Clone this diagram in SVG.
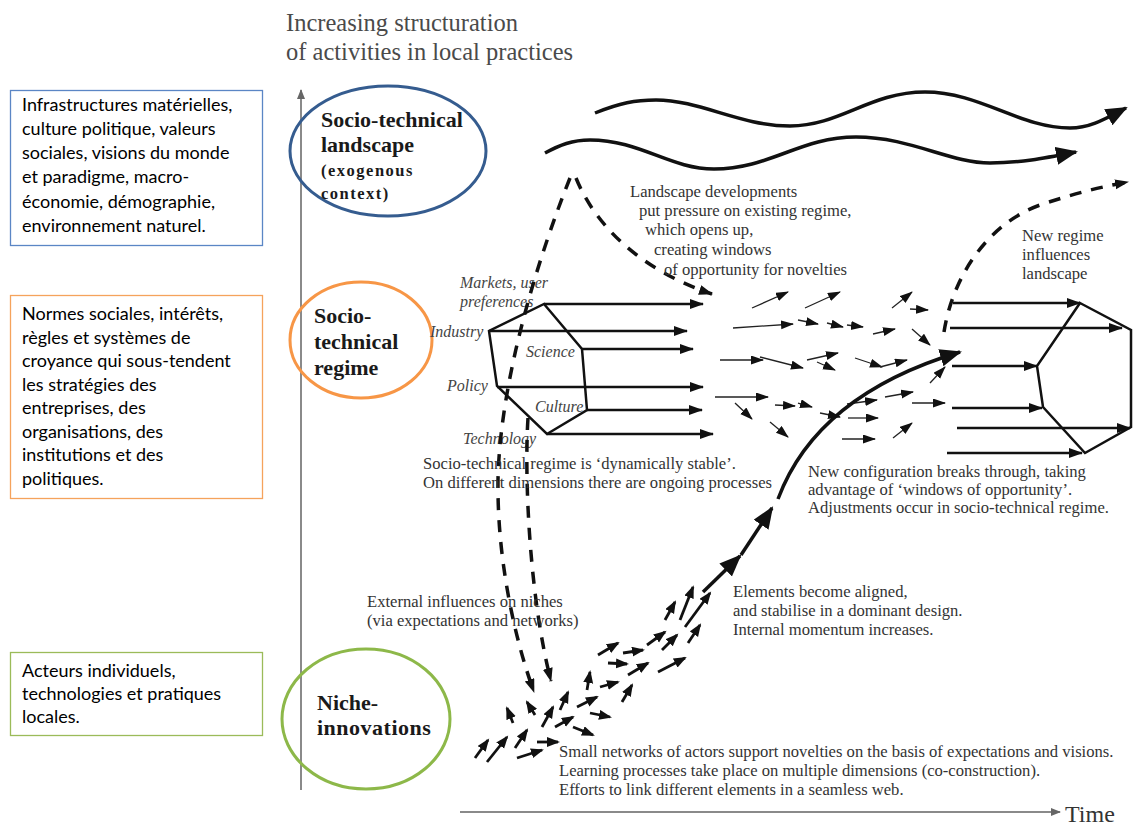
<svg xmlns="http://www.w3.org/2000/svg" width="1133" height="827" viewBox="0 0 1133 827">
<defs>
<style>
.ax{stroke:#8a8a8a;stroke-width:2;fill:none}
.wave{stroke:#111;stroke-width:3.5;fill:none}
.dash{stroke:#111;stroke-width:3.5;stroke-dasharray:12 10;fill:none}
.hex{stroke:#111;stroke-width:2.5;fill:none}
.ar{stroke:#111;stroke-width:2.5;fill:none}
.th{stroke:#222;stroke-width:1.3;fill:none}
.ni{stroke:#111;stroke-width:2.8;fill:none}
.t{font-family:"Liberation Serif","Times New Roman",serif;font-size:16.6px;fill:#333}
.it{font-style:italic;fill:#444;font-size:16px}
.lbl{font-family:"Liberation Serif","Times New Roman",serif;font-weight:bold;font-size:22px;fill:#1a1a1a}
.sub{font-family:"Liberation Serif","Times New Roman",serif;font-weight:bold;font-size:16.5px;letter-spacing:1.5px;fill:#1a1a1a}
.fr{font-family:Lato,"Noto Sans",sans-serif;font-size:18px;fill:#000}
</style>
<marker id="mBig" markerUnits="userSpaceOnUse" markerWidth="24" markerHeight="20" refX="20" refY="9" orient="auto"><path d="M0,0 L22,9 L0,18 z" fill="#111"/></marker>
<marker id="mMed" markerUnits="userSpaceOnUse" markerWidth="16" markerHeight="12" refX="13" refY="5" orient="auto"><path d="M0,0 L14,5 L0,10 z" fill="#111"/></marker>
<marker id="mSm" markerUnits="userSpaceOnUse" markerWidth="14" markerHeight="12" refX="12" refY="4.5" orient="auto"><path d="M0,0 L13,4.5 L0,9 z" fill="#111"/></marker>
<marker id="mNi" markerUnits="userSpaceOnUse" markerWidth="14" markerHeight="12" refX="11" refY="5" orient="auto"><path d="M0,0 L13,5 L0,10 z" fill="#111"/></marker>
<marker id="mAx" markerUnits="userSpaceOnUse" markerWidth="12" markerHeight="10" refX="9" refY="4" orient="auto"><path d="M0,0 L10,4 L0,8 z" fill="#666"/></marker>
</defs>
<rect width="1133" height="827" fill="#fff"/>

<g id="title">
<text x="286" y="31" font-family="Liberation Serif, serif" font-size="24.5" fill="#4a4a4a">Increasing structuration</text>
<text x="286" y="60" font-family="Liberation Serif, serif" font-size="24.5" fill="#4a4a4a">of activities in local practices</text>
</g>

<g id="axes">
<line class="ax" x1="301" y1="790" x2="301" y2="90" marker-end="url(#mAx)"/>
<line class="ax" x1="460" y1="812" x2="1060" y2="812" marker-end="url(#mAx)"/>
<text x="1065" y="822" font-family="Liberation Serif, serif" font-size="24" fill="#333">Time</text>
</g>

<g id="box-landscape">
<rect x="10.5" y="90.5" width="252" height="155" fill="#fff" stroke="#5B86C5" stroke-width="1.3"/>
<text class="fr" x="22" y="111">Infrastructures matérielles,</text>
<text class="fr" x="22" y="135">culture politique, valeurs</text>
<text class="fr" x="22" y="159">sociales, visions du monde</text>
<text class="fr" x="22" y="183">et paradigme, macro-</text>
<text class="fr" x="22" y="208">économie, démographie,</text>
<text class="fr" x="22" y="232">environnement naturel.</text>
</g>

<g id="box-regime">
<rect x="10.5" y="295.5" width="252" height="203" fill="#fff" stroke="#F5A35C" stroke-width="1.3"/>
<text class="fr" x="22" y="320">Normes sociales, intérêts,</text>
<text class="fr" x="22" y="344">règles et systèmes de</text>
<text class="fr" x="22" y="367">croyance qui sous-tendent</text>
<text class="fr" x="22" y="391">les stratégies des</text>
<text class="fr" x="22" y="414">entreprises, des</text>
<text class="fr" x="22" y="438">organisations, des</text>
<text class="fr" x="22" y="461">institutions et des</text>
<text class="fr" x="22" y="485">politiques.</text>
</g>

<g id="box-niche">
<rect x="10.5" y="652.5" width="252" height="83" fill="#fff" stroke="#9BBB59" stroke-width="1.3"/>
<text class="fr" x="22" y="677">Acteurs individuels,</text>
<text class="fr" x="22" y="700">technologies et pratiques</text>
<text class="fr" x="22" y="723">locales.</text>
</g>

<g id="ellipse-landscape">
<ellipse cx="388" cy="151" rx="98" ry="65" fill="none" stroke="#355C8F" stroke-width="3"/>
<text class="lbl" x="321" y="127">Socio-technical</text>
<text class="lbl" x="321" y="152">landscape</text>
<text class="sub" x="321" y="176">(exogenous</text>
<text class="sub" x="321" y="199">context)</text>
</g>

<g id="ellipse-regime">
<ellipse cx="361" cy="340" rx="71" ry="58" fill="none" stroke="#F79646" stroke-width="3"/>
<text class="lbl" x="314" y="323">Socio-</text>
<text class="lbl" x="314" y="349">technical</text>
<text class="lbl" x="314" y="375">regime</text>
</g>

<g id="ellipse-niche">
<ellipse cx="366" cy="719" rx="84" ry="70" fill="none" stroke="#8DB849" stroke-width="3"/>
<text class="lbl" x="317" y="710">Niche-</text>
<text class="lbl" x="317" y="735" letter-spacing="0.5">innovations</text>
</g>

<g id="regime-hexagon">
<polygon class="hex" points="544,304 582,349 587,410 547,434 497,386 489,331"/>
<text class="t it" x="460" y="288">Markets, user</text>
<text class="t it" x="460" y="307">preferences</text>
<text class="t it" x="430" y="337">Industry</text>
<text class="t it" x="526" y="357">Science</text>
<text class="t it" x="447" y="391">Policy</text>
<text class="t it" x="535" y="412">Culture</text>
<text class="t it" x="463" y="444">Technology</text>
</g>

<g id="new-regime-hexagon">
<polygon class="hex" points="1080,303 1131,330 1131,427 1085,453 1043,407 1037,366"/>
</g>

<g id="connectors">
<path class="wave" d="M595,113 C620,103 635,100 656,100 C700,100 740,126 790,126 C840,126 870,92 925,92 C980,92 1020,128 1070,128 C1090,128 1105,119 1126,108" marker-end="url(#mBig)"/>
<path class="wave" d="M545,153 C560,145 572,140 590,140 C640,140 670,169 714,169 C770,169 800,137 856,137 C910,137 950,163 990,163 C1020,163 1045,158 1076,152" marker-end="url(#mBig)"/>
<path class="dash" d="M576,178 C595,225 640,270 712,294" marker-end="url(#mMed)"/>
<path class="dash" d="M570,178 C538,258 500,380 498,480 C497,560 515,640 534,692" marker-end="url(#mMed)"/>
<path class="dash" d="M528,418 C524,480 530,600 551,681" marker-end="url(#mMed)"/>
<path class="dash" d="M944,332 C952,280 985,225 1040,205 C1070,195 1095,188 1128,182" marker-end="url(#mMed)"/>
<line class="ar" x1="544" y1="304" x2="703" y2="304" marker-end="url(#mMed)"/>
<line class="ar" x1="489" y1="331" x2="687" y2="331" marker-end="url(#mMed)"/>
<line class="ar" x1="582" y1="349" x2="693" y2="349" marker-end="url(#mMed)"/>
<line class="ar" x1="497" y1="387" x2="703" y2="387" marker-end="url(#mMed)"/>
<line class="ar" x1="587" y1="410" x2="702" y2="410" marker-end="url(#mMed)"/>
<line class="ar" x1="547" y1="434" x2="713" y2="434" marker-end="url(#mMed)"/>
<line class="ar" x1="953" y1="303" x2="1080" y2="303" marker-end="url(#mMed)"/>
<line class="ar" x1="950" y1="328" x2="1122" y2="328" marker-end="url(#mMed)"/>
<line class="ar" x1="952" y1="366" x2="1037" y2="366" marker-end="url(#mMed)"/>
<line class="ar" x1="952" y1="408" x2="1042" y2="408" marker-end="url(#mMed)"/>
<line class="ar" x1="957" y1="428" x2="1130" y2="428" marker-end="url(#mMed)"/>
<line class="ar" x1="947" y1="453" x2="1082" y2="453" marker-end="url(#mMed)"/>
<g marker-end="url(#mSm)">
<line class="th" x1="752" y1="308" x2="788" y2="292"/>
<line class="th" x1="805" y1="308" x2="840" y2="292"/>
<line class="th" x1="892" y1="308" x2="912" y2="292"/>
<line class="th" x1="910" y1="309" x2="928" y2="310"/>
<line class="th" x1="733" y1="328" x2="793" y2="324"/>
<line class="th" x1="798" y1="320" x2="818" y2="324"/>
<line class="th" x1="827" y1="323" x2="843" y2="327"/>
<line class="th" x1="847" y1="325" x2="863" y2="327"/>
<line class="th" x1="873" y1="334" x2="895" y2="329"/>
<line class="th" x1="912" y1="329" x2="930" y2="345"/>
<line class="th" x1="720" y1="360" x2="763" y2="360"/>
<line class="th" x1="760" y1="357" x2="803" y2="368"/>
<line class="th" x1="807" y1="360" x2="838" y2="353"/>
<line class="th" x1="817" y1="362" x2="835" y2="370"/>
<line class="th" x1="855" y1="358" x2="882" y2="367"/>
<line class="th" x1="880" y1="367" x2="907" y2="360"/>
<line class="th" x1="930" y1="383" x2="945" y2="367"/>
<line class="th" x1="715" y1="397" x2="768" y2="397"/>
<line class="th" x1="735" y1="403" x2="752" y2="419"/>
<line class="th" x1="775" y1="405" x2="795" y2="406"/>
<line class="th" x1="798" y1="403" x2="812" y2="407"/>
<line class="th" x1="770" y1="422" x2="788" y2="437"/>
<line class="th" x1="820" y1="413" x2="840" y2="417"/>
<line class="th" x1="847" y1="404" x2="877" y2="400"/>
<line class="th" x1="848" y1="418" x2="878" y2="418"/>
<line class="th" x1="885" y1="397" x2="913" y2="392"/>
<line class="th" x1="912" y1="403" x2="945" y2="403"/>
<line class="th" x1="842" y1="439" x2="875" y2="439"/>
<line class="th" x1="893" y1="438" x2="912" y2="423"/>
</g>
<g marker-end="url(#mNi)">
<line class="ni" x1="475" y1="758" x2="488" y2="740"/>
<line class="ni" x1="487" y1="762" x2="507" y2="737"/>
<line class="ni" x1="515" y1="748" x2="527" y2="730"/>
<line class="ni" x1="517" y1="758" x2="542" y2="750"/>
<line class="ni" x1="537" y1="742" x2="558" y2="742"/>
<line class="ni" x1="513" y1="723" x2="507" y2="708"/>
<line class="ni" x1="535" y1="715" x2="527" y2="702"/>
<line class="ni" x1="542" y1="727" x2="553" y2="707"/>
<line class="ni" x1="555" y1="727" x2="573" y2="717"/>
<line class="ni" x1="560" y1="710" x2="568" y2="692"/>
<line class="ni" x1="573" y1="727" x2="593" y2="735"/>
<line class="ni" x1="577" y1="707" x2="597" y2="697"/>
<line class="ni" x1="587" y1="690" x2="590" y2="672"/>
<line class="ni" x1="590" y1="713" x2="610" y2="717"/>
<line class="ni" x1="600" y1="687" x2="618" y2="682"/>
<line class="ni" x1="622" y1="702" x2="632" y2="685"/>
<line class="ni" x1="598" y1="655" x2="618" y2="643"/>
<line class="ni" x1="608" y1="663" x2="627" y2="664"/>
<line class="ni" x1="623" y1="653" x2="643" y2="650"/>
<line class="ni" x1="628" y1="675" x2="648" y2="663"/>
<line class="ni" x1="647" y1="645" x2="665" y2="632"/>
<line class="ni" x1="662" y1="650" x2="677" y2="635"/>
<line class="ni" x1="658" y1="672" x2="685" y2="658"/>
<line class="ni" x1="665" y1="620" x2="675" y2="602"/>
<line class="ni" x1="680" y1="620" x2="693" y2="587"/>
<line class="ni" x1="685" y1="627" x2="710" y2="593"/>
<line class="ni" x1="688" y1="643" x2="700" y2="625"/>
</g>
<line class="wave" x1="703" y1="592" x2="740" y2="556" marker-end="url(#mBig)"/>
<line class="wave" x1="741" y1="555" x2="772" y2="508" marker-end="url(#mBig)"/>
<path class="wave" d="M778,499 C800,440 850,385 960,352" marker-end="url(#mBig)"/>
</g>

<g id="texts">
<text class="t" x="630" y="197">Landscape  developments</text>
<text class="t" x="639" y="216">put pressure on existing regime,</text>
<text class="t" x="645" y="235">which opens up,</text>
<text class="t" x="654" y="255">creating windows</text>
<text class="t" x="664" y="275">of opportunity for novelties</text>
<text class="t" x="1022" y="241">New  regime</text>
<text class="t" x="1022" y="260">influences</text>
<text class="t" x="1022" y="279">landscape</text>
<text class="t" x="423" y="469">Socio-technical regime  is ‘dynamically stable’.</text>
<text class="t" x="423" y="488">On different dimensions there are ongoing processes</text>
<text class="t" x="808" y="477">New configuration breaks through, taking</text>
<text class="t" x="808" y="495">advantage of ‘windows of opportunity’.</text>
<text class="t" x="808" y="513">Adjustments occur in socio-technical regime.</text>
<text class="t" x="367" y="607">External influences on niches</text>
<text class="t" x="367" y="626">(via expectations and networks)</text>
<text class="t" x="733" y="597">Elements become aligned,</text>
<text class="t" x="733" y="616">and stabilise in a dominant design.</text>
<text class="t" x="733" y="635">Internal momentum increases.</text>
<text class="t" x="559" y="757">Small networks of actors support novelties on the basis of expectations and visions.</text>
<text class="t" x="559" y="776">Learning processes take place on multiple dimensions (co-construction).</text>
<text class="t" x="559" y="795">Efforts to link different elements in a seamless web.</text>
</g>
</svg>
